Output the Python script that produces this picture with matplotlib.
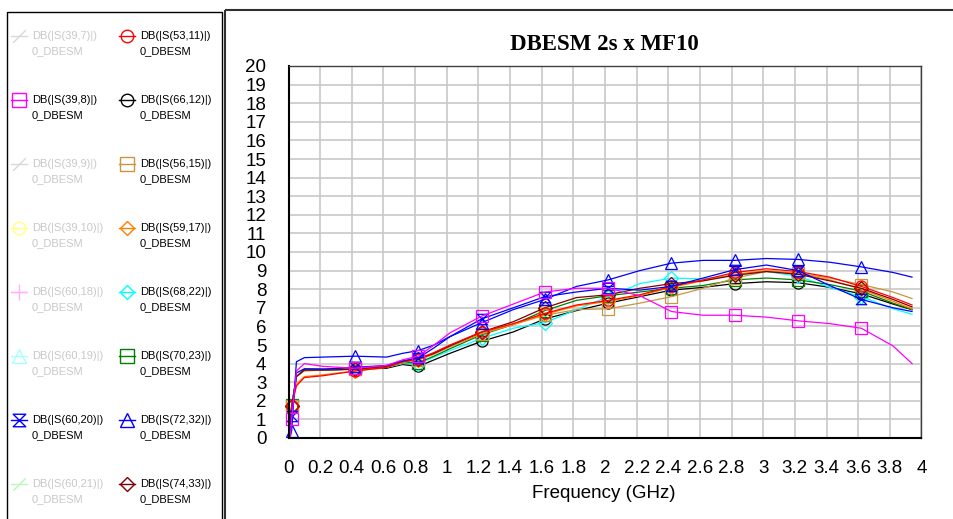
import matplotlib
matplotlib.use('Agg')
import matplotlib.pyplot as plt
from matplotlib.path import Path
from matplotlib.patches import Rectangle
import numpy as np

plt.rcParams['font.family'] = ['Liberation Sans', 'DejaVu Sans']

# frequency points (GHz)
freq = [0.01, 0.02, 0.05, 0.1, 0.22, 0.42, 0.62, 0.72, 0.82, 0.92, 1.02, 1.22, 1.42,
        1.62, 1.82, 2.02, 2.22, 2.42, 2.62, 2.82, 3.02, 3.22, 3.42, 3.62, 3.82, 3.94]
# points that carry a marker (0.02, 0.42, 0.82, ... GHz)
mark_idx = [1, 5, 8, 11, 13, 15, 17, 19, 21, 23]

s39_8 = [0.0, 1.0, 3.6, 4.0, 3.85, 3.75, 3.9, 4.2, 4.4, 5.0, 5.65, 6.55, 7.2,
         7.85, 8.05, 8.05, 7.65, 6.8, 6.6, 6.6, 6.5, 6.3, 6.15, 5.9, 4.95, 4.0]
s60_20 = [0.3, 1.2, 3.5, 3.72, 3.7, 3.8, 3.9, 4.15, 4.3, 4.85, 5.45, 6.4, 7.0,
          7.6, 7.85, 8.05, 7.95, 8.15, 8.6, 9.05, 9.3, 9.0, 8.2, 7.45, 7.0, 6.8]
s72_32 = [0.0, 0.4, 4.1, 4.32, 4.35, 4.4, 4.35, 4.55, 4.7, 5.0, 5.45, 6.2, 6.9,
          7.45, 8.15, 8.5, 9.0, 9.4, 9.55, 9.55, 9.65, 9.6, 9.45, 9.2, 8.9, 8.65]
s53_11 = [0.5, 1.7, 2.8, 3.25, 3.35, 3.6, 3.8, 4.1, 4.25, 4.6, 5.0, 5.7, 6.15,
          6.7, 7.15, 7.4, 7.7, 8.15, 8.5, 8.9, 9.1, 8.95, 8.65, 8.15, 7.55, 7.15]
s59_17 = [0.5, 1.7, 2.9, 3.3, 3.4, 3.6, 3.8, 4.05, 4.2, 4.55, 4.95, 5.65, 6.1,
          6.65, 7.1, 7.35, 7.65, 8.1, 8.45, 8.8, 9.0, 8.85, 8.5, 8.0, 7.35, 6.95]
s74_33 = [0.6, 1.7, 3.3, 3.65, 3.65, 3.7, 3.85, 4.1, 4.25, 4.55, 4.95, 5.7, 6.25,
          7.0, 7.55, 7.7, 8.05, 8.3, 8.45, 8.75, 8.95, 8.8, 8.45, 8.05, 7.45, 7.05]
s56_15 = [0.6, 1.7, 3.3, 3.6, 3.65, 3.7, 3.85, 4.1, 4.2, 4.5, 4.9, 5.6, 6.1,
          6.6, 6.9, 6.95, 7.25, 7.6, 8.05, 8.6, 8.95, 8.85, 8.6, 8.25, 7.85, 7.5]
s70_23 = [0.6, 1.75, 3.3, 3.65, 3.65, 3.7, 3.8, 4.05, 4.05, 4.4, 4.8, 5.55, 6.1,
          6.85, 7.4, 7.65, 7.85, 8.05, 8.2, 8.5, 8.6, 8.5, 8.25, 7.9, 7.25, 6.9]
s68_22 = [0.6, 1.7, 3.3, 3.65, 3.65, 3.7, 3.8, 4.0, 4.0, 4.35, 4.7, 5.35, 5.9,
          6.2, 6.9, 7.6, 8.3, 8.6, 8.55, 8.75, 8.95, 8.7, 8.1, 7.6, 6.95, 6.65]
s66_12 = [0.6, 1.7, 3.3, 3.7, 3.7, 3.7, 3.75, 3.95, 3.85, 4.2, 4.55, 5.2, 5.7,
          6.4, 6.85, 7.25, 7.6, 7.95, 8.1, 8.3, 8.4, 8.35, 8.1, 7.75, 7.2, 6.9]

xticks = np.arange(0, 4.001, 0.2)
yticks = np.arange(0, 21, 1)

hourglass = Path([(-1, 1), (1, 1), (-1, -1), (1, -1), (-1, 1)],
                 [Path.MOVETO, Path.LINETO, Path.LINETO, Path.LINETO, Path.CLOSEPOLY])
slash = Path([(-1, -1), (1, 1)], [Path.MOVETO, Path.LINETO])

# name, data, colour, marker
traces = [
    ("DB(|S(66,12)|)", s66_12, '#000000', 'o'),
    ("DB(|S(68,22)|)", s68_22, '#00ffff', 'D'),
    ("DB(|S(70,23)|)", s70_23, '#008000', 's'),
    ("DB(|S(56,15)|)", s56_15, '#c8963e', 's'),
    ("DB(|S(59,17)|)", s59_17, '#ff8000', 'D'),
    ("DB(|S(74,33)|)", s74_33, '#800000', 'D'),
    ("DB(|S(53,11)|)", s53_11, '#ff0000', 'o'),
    ("DB(|S(72,32)|)", s72_32, '#0000ff', '^'),
    ("DB(|S(60,20)|)", s60_20, '#0000ff', hourglass),
    ("DB(|S(39,8)|)", s39_8, '#ff00ff', 's'),
]

# legend columns: name, colour, marker, shown
left_col = [
    ("DB(|S(39,7)|)", '#d8d8d8', slash, False),
    ("DB(|S(39,8)|)", '#ff00ff', 's', True),
    ("DB(|S(39,9)|)", '#d8d8d8', slash, False),
    ("DB(|S(39,10)|)", '#ffff80', 'o', False),
    ("DB(|S(60,18)|)", '#ffb0ff', '+', False),
    ("DB(|S(60,19)|)", '#a8ffff', '^', False),
    ("DB(|S(60,20)|)", '#0000ff', hourglass, True),
    ("DB(|S(60,21)|)", '#b8f8b8', slash, False),
]
right_col = [
    ("DB(|S(53,11)|)", '#ff0000', 'o', True),
    ("DB(|S(66,12)|)", '#000000', 'o', True),
    ("DB(|S(56,15)|)", '#c8963e', 's', True),
    ("DB(|S(59,17)|)", '#ff8000', 'D', True),
    ("DB(|S(68,22)|)", '#00ffff', 'D', True),
    ("DB(|S(70,23)|)", '#008000', 's', True),
    ("DB(|S(72,32)|)", '#0000ff', '^', True),
    ("DB(|S(74,33)|)", '#800000', 'D', True),
]

W, H = 954, 519
fig = plt.figure(figsize=(W / 100, H / 100), dpi=100)

# background panels and legend, in pixel coordinates
bg = fig.add_axes([0, 0, 1, 1])
bg.set_xlim(0, W)
bg.set_ylim(H, 0)
bg.axis('off')
bg.add_patch(Rectangle((7, 12), 215, 520, fill=False, edgecolor='black', lw=1))
bg.add_patch(Rectangle((225, 10), 740, 520, fill=False, edgecolor='#303030', lw=1.5))

marker_size = {'s': 10, 'o': 9, 'D': 7.5, '^': 10, '+': 11}
for col, (x0, tx) in zip([left_col, right_col], [(19, 32), (127, 140)]):
    for i, (name, color, mk, shown) in enumerate(col):
        y = 36 + i * 64
        ms = marker_size.get(mk, 9) if isinstance(mk, str) else 9
        bg.plot([x0 - 8, x0 + 8], [y, y], color=color, lw=1)
        bg.plot([x0], [y], marker=mk, ms=ms, mfc='none', mec=color, mew=1, color=color)
        tcol = 'black' if shown else '#c8c8c8'
        bg.text(tx, y, name, fontsize=8, color=tcol, va='center', ha='left')
        bg.text(tx, y + 15, "0_DBESM", fontsize=8, color=tcol, va='center', ha='left')

# chart
ax = fig.add_axes([288.5 / W, (H - 438) / H, 633 / W, 372 / H])
plot_size = {'s': 8, 'o': 8, 'D': 7, '^': 9}
for name, vals, color, mk in traces:
    ms = plot_size.get(mk, 8) if isinstance(mk, str) else 7.5
    ax.plot(freq, vals, color=color, lw=0.9, marker=mk, markevery=mark_idx,
            ms=ms, mfc='none', mec=color, mew=0.9, clip_on=False)

ax.set_xlim(0, 4)
ax.set_ylim(0, 20)
ax.set_xticks(xticks)
ax.set_xticklabels([f"{v:g}" for v in xticks])
ax.set_yticks(yticks)
ax.tick_params(length=0, pad=16, labelsize=13.5)
ax.grid(color='#c8c8c8', lw=1.2)
ax.set_axisbelow(True)
for side in ['left', 'bottom']:
    ax.spines[side].set_linewidth(1.5)
for side in ['top', 'right']:
    ax.spines[side].set_linewidth(1)
    ax.spines[side].set_color('#404040')

fig.text(604 / W, 1 - 45 / H, 'DBESM 2s x MF10', ha='center', va='center',
         family='Liberation Serif', weight='bold', fontsize=16.5)
fig.text(604 / W, 1 - 493 / H, 'Frequency (GHz)', ha='center', va='center', fontsize=13.5)

fig.savefig('out.png', dpi=100)
